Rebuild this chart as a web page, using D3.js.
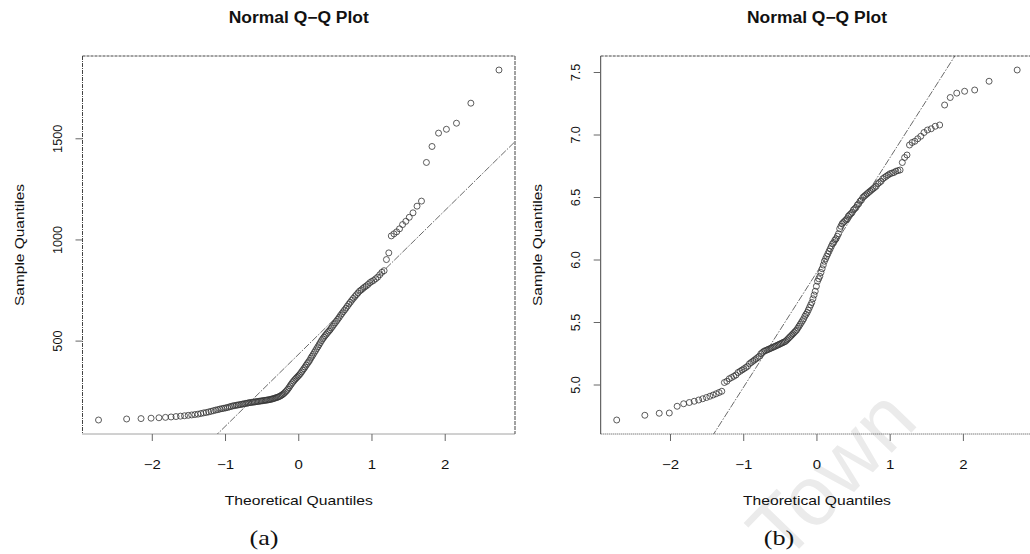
<!DOCTYPE html>
<html>
<head>
<meta charset="utf-8">
<script src="https://cdn.jsdelivr.net/npm/d3@7"></script>
<style>
  body { margin: 0; background: #fff; }
  text { font-family: "Liberation Sans", Arial, sans-serif; fill: #111; }
</style>
</head>
<body>
<svg id="chart" width="1030" height="554"></svg>
<script>
// sample quantiles (sorted, n = 160 each)
var leftSample = [
  110,115,117,119,121,123,125,127,129,131,
  133,135,137,139,142,145,147,150,153,156,
  159,161,164,166,168,170,172,175,177,180,
  181,183,184,186,187,189,190,192,193,195,
  196,197,198,199,200,201,202,203,204,205,
  206,207,208,209,210,211,213,214,216,218,
  220,222,224,227,230,234,238,243,249,255,
  262,270,279,287,295,302,309,315,321,327,
  333,340,348,356,364,372,381,389,397,405,
  416,425,434,444,453,463,472,482,492,502,
  511,519,527,534,542,549,556,565,573,582,
  590,599,608,617,627,636,645,654,663,673,
  683,692,702,711,720,729,738,747,753,760,
  767,773,780,789,795,800,808,816,828,840,
  848,903,936,1020,1030,1040,1055,1076,1092,1112,
  1134,1167,1192,1383,1462,1528,1547,1577,1676,1840
];

var rightSample = [
  4.72,4.758,4.774,4.776,4.83,4.85,4.86,4.87,4.88,4.89,
  4.90,4.91,4.92,4.93,4.94,4.95,5.02,5.03,5.05,5.06,
  5.07,5.08,5.10,5.11,5.12,5.13,5.14,5.15,5.17,5.18,
  5.19,5.20,5.21,5.22,5.23,5.25,5.26,5.27,5.275,5.28,
  5.285,5.29,5.295,5.30,5.305,5.31,5.315,5.32,5.325,5.33,
  5.335,5.34,5.345,5.35,5.36,5.37,5.38,5.39,5.40,5.41,
  5.42,5.43,5.44,5.455,5.47,5.485,5.50,5.515,5.53,5.55,
  5.565,5.58,5.60,5.62,5.64,5.66,5.69,5.72,5.75,5.79,
  5.83,5.85,5.87,5.90,5.93,5.96,5.99,6.01,6.03,6.05,
  6.07,6.09,6.11,6.13,6.14,6.16,6.17,6.19,6.21,6.25,
  6.27,6.29,6.30,6.31,6.32,6.33,6.35,6.36,6.37,6.38,
  6.40,6.41,6.42,6.44,6.45,6.47,6.48,6.50,6.51,6.52,
  6.53,6.54,6.55,6.56,6.57,6.58,6.59,6.61,6.62,6.63,
  6.65,6.66,6.67,6.68,6.69,6.695,6.70,6.71,6.715,6.72,
  6.78,6.82,6.84,6.92,6.94,6.95,6.97,6.99,7.02,7.04,
  7.05,7.07,7.08,7.24,7.30,7.335,7.35,7.36,7.43,7.52
];

var xTicks = [-2, -1, 0, 1, 2];
var leftYTicks = [500, 1000, 1500];
var rightYTicks = [5.0, 5.5, 6.0, 6.5, 7.0, 7.5];
var captions = ['(a)', '(b)'];

var svg = d3.select('#chart');

// inverse normal cdf (Acklam)
function qnorm(p) {
  var a = [-39.6968302866538, 220.946098424521, -275.928510446969, 138.357751867269, -30.6647980661472, 2.50662827745924];
  var b = [-54.4760987982241, 161.585836858041, -155.698979859887, 66.8013118877197, -13.2806815528857];
  var c = [-0.00778489400243029, -0.322396458041136, -2.40075827716184, -2.54973253934373, 4.37466414146497, 2.93816398269878];
  var d = [0.00778469570904146, 0.32246712907004, 2.445134137143, 3.75440866190742];
  var q, r;
  if (p < 0.02425) {
    q = Math.sqrt(-2 * Math.log(p));
    return (((((c[0]*q+c[1])*q+c[2])*q+c[3])*q+c[4])*q+c[5]) / ((((d[0]*q+d[1])*q+d[2])*q+d[3])*q+1);
  }
  if (p > 1 - 0.02425) {
    q = Math.sqrt(-2 * Math.log(1 - p));
    return -(((((c[0]*q+c[1])*q+c[2])*q+c[3])*q+c[4])*q+c[5]) / ((((d[0]*q+d[1])*q+d[2])*q+d[3])*q+1);
  }
  q = p - 0.5; r = q * q;
  return (((((a[0]*r+a[1])*r+a[2])*r+a[3])*r+a[4])*r+a[5])*q / (((((b[0]*r+b[1])*r+b[2])*r+b[3])*r+b[4])*r+1);
}

// R style axis range: data range plus 4% each side
function pad(ext) {
  var e = (ext[1] - ext[0]) * 0.04;
  return [ext[0] - e, ext[1] + e];
}

// watermark behind everything
svg.append('text')
  .attr('transform', 'translate(852,494) rotate(-46)')
  .attr('text-anchor', 'middle')
  .style('font-size', '84px')
  .style('fill', '#ebebeb')
  .text('Town');

function drawPanel(sample, yTicks, left, idx) {
  var n = sample.length;
  var theo = sample.map(function(d, i) { return qnorm((i + 0.5) / n); });
  var pts = sample.map(function(d, i) { return { t: theo[i], v: d }; });

  var x0 = left, x1 = left + 432.5, yTop = 56, yBot = 434;
  var x = d3.scaleLinear().domain(pad(d3.extent(theo))).range([x0, x1]);
  var y = d3.scaleLinear().domain(pad(d3.extent(sample))).range([yBot, yTop]);
  var cx = (x0 + x1) / 2;

  var g = svg.append('g');

  g.append('clipPath').attr('id', 'clip' + idx)
    .append('rect').attr('x', x0).attr('y', yTop).attr('width', x1 - x0).attr('height', yBot - yTop);

  // points
  g.append('g').selectAll('circle')
    .data(pts)
    .enter()
    .append('circle')
    .attr('cx', function(d) { return x(d.t); })
    .attr('cy', function(d) { return y(d.v); })
    .attr('r', 3)
    .attr('fill', 'none')
    .attr('stroke', '#333')
    .attr('stroke-width', 0.8);

  // qqline through the quartiles
  var sorted = sample.slice().sort(d3.ascending);
  var yq = [d3.quantile(sorted, 0.25), d3.quantile(sorted, 0.75)];
  var xq = [qnorm(0.25), qnorm(0.75)];
  var slope = (yq[1] - yq[0]) / (xq[1] - xq[0]);
  var icpt = yq[0] - slope * xq[0];
  var xd = x.domain();
  g.append('line')
    .attr('clip-path', 'url(#clip' + idx + ')')
    .attr('x1', x(xd[0])).attr('y1', y(icpt + slope * xd[0]))
    .attr('x2', x(xd[1])).attr('y2', y(icpt + slope * xd[1]))
    .attr('stroke', '#444')
    .attr('stroke-width', 0.8)
    .attr('stroke-dasharray', '7,1.5,1.5,1.5');

  // box, drawn side by side to keep the rough print look
  var sides = [
    [x0, yTop, x1, yTop, '3,1'],
    [x0, yBot, x1, yBot, '1,1'],
    [x0, yTop, x0, yBot, idx === 0 ? '4,1,1,1' : null],
    [x1, yTop, x1, yBot, '4,1']
  ];
  sides.forEach(function(s) {
    var l = g.append('line')
      .attr('x1', s[0]).attr('y1', s[1]).attr('x2', s[2]).attr('y2', s[3])
      .attr('stroke', '#444').attr('stroke-width', 1);
    if (s[4]) l.attr('stroke-dasharray', s[4]);
  });

  // x axis ticks
  xTicks.forEach(function(t) {
    g.append('line')
      .attr('x1', x(t)).attr('x2', x(t)).attr('y1', yBot).attr('y2', yBot + 7)
      .attr('stroke', '#666').attr('stroke-width', 1);
    g.append('text')
      .attr('transform', 'translate(' + x(t) + ',469) scale(1.2,1)')
      .attr('text-anchor', 'middle')
      .style('font-size', '12.5px')
      .text(t < 0 ? '\u2212' + Math.abs(t) : t);
  });

  // y axis ticks
  yTicks.forEach(function(v) {
    g.append('line')
      .attr('x1', x0 - 7).attr('x2', x0).attr('y1', y(v)).attr('y2', y(v))
      .attr('stroke', '#666').attr('stroke-width', 1);
    g.append('text')
      .attr('transform', 'translate(' + (x0 - 21) + ',' + y(v) + ') rotate(-90)')
      .attr('text-anchor', 'middle')
      .style('font-size', '12.7px')
      .text(idx === 0 ? v : d3.format('.1f')(v));
  });

  // titles
  g.append('text')
    .attr('x', cx).attr('y', 23)
    .attr('text-anchor', 'middle')
    .attr('textLength', 140).attr('lengthAdjust', 'spacingAndGlyphs')
    .style('font-size', '16px').style('font-weight', 'bold')
    .text('Normal Q\u2212Q Plot');

  g.append('text')
    .attr('x', cx).attr('y', 505)
    .attr('text-anchor', 'middle')
    .attr('textLength', 148).attr('lengthAdjust', 'spacingAndGlyphs')
    .style('font-size', '13.5px')
    .text('Theoretical Quantiles');

  g.append('text')
    .attr('transform', 'translate(' + (x0 - 59) + ',' + ((yTop + yBot) / 2) + ') rotate(-90)')
    .attr('text-anchor', 'middle')
    .attr('textLength', 122).attr('lengthAdjust', 'spacingAndGlyphs')
    .style('font-size', '13.5px')
    .text('Sample Quantiles');

  g.append('text')
    .attr('transform', 'translate(' + (idx === 0 ? 264 : 779) + ',545) scale(1.25,1)')
    .attr('text-anchor', 'middle')
    .style('font-family', '"Liberation Serif", "DejaVu Serif", serif')
    .style('font-size', '21px')
    .text(captions[idx]);
}

drawPanel(leftSample, leftYTicks, 82.5, 0);
drawPanel(rightSample, rightYTicks, 600.7, 1);
</script>
</body>
</html>
